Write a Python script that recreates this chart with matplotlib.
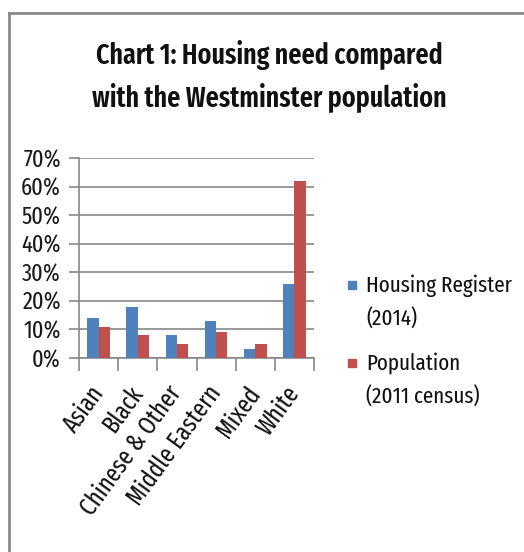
import matplotlib
matplotlib.use("Agg")
import matplotlib.pyplot as plt
import numpy as np
from matplotlib.lines import Line2D
from matplotlib.patches import Rectangle
from matplotlib.ticker import PercentFormatter

categories = ["Asian", "Black", "Chinese & Other", "Middle Eastern", "Mixed", "White"]
housing_register = [14, 18, 8, 13, 3, 26]
population = [11, 8, 5, 9, 5, 62]
series_names = [["Housing Register", "(2014)"], ["Population", "(2011 census)"]]
title_lines = ["Chart 1: Housing need compared", "with the Westminster population"]

FONT = ["Fira Sans Extra Condensed", "Fira Sans Condensed", "Carlito", "DejaVu Sans"]
plt.rcParams["font.family"] = FONT

BLUE = "#4F81BD"
RED = "#C0504D"
GRID = "#878787"
TXT = "#111111"

fig = plt.figure(figsize=(5.24, 5.52), dpi=100)
W, H = 524, 552
ax = fig.add_axes([79 / W, 1 - 358 / H, 235 / W, 200 / H])

x = np.arange(len(categories))
bw = 0.29
ax.bar(x - bw / 2, housing_register, bw, color=BLUE, zorder=3)
ax.bar(x + bw / 2, population, bw, color=RED, zorder=3)

ax.set_xlim(-0.5, len(categories) - 0.5)
ax.set_ylim(0, 70)
ax.set_yticks(np.arange(0, 71, 10))
ax.yaxis.set_major_formatter(PercentFormatter(decimals=0))
ax.yaxis.grid(True, color=GRID, linewidth=1.2, zorder=0)
ax.tick_params(axis="y", length=7, width=1.2, color=GRID, pad=6, labelsize=17.5, labelcolor="#1a1a1a")

ax.set_xticks(x)
ax.set_xticklabels(categories, rotation=54, ha="right", va="center", rotation_mode="anchor",
                   fontsize=18, color=TXT)
ax.tick_params(axis="x", which="major", length=0, pad=22)
ax.set_xticks(np.arange(-0.5, len(categories), 1), minor=True)
ax.tick_params(axis="x", which="minor", length=9, width=1.2, color=GRID)

for s in ["top", "right"]:
    ax.spines[s].set_visible(False)
ax.spines["left"].set_color(GRID)
ax.spines["left"].set_linewidth(1.2)
ax.spines["bottom"].set_color(GRID)
ax.spines["bottom"].set_linewidth(1.2)

# title (two centred lines)
for line, base in zip(title_lines, [64, 106]):
    fig.text(269 / W, 1 - base / H, line, ha="center", va="baseline", fontsize=20.3,
             fontweight="semibold", color=TXT)

# legend
legend_tops = [281, 359]
for lines, col, top in zip(series_names, [BLUE, RED], legend_tops):
    fig.patches.append(Rectangle((348 / W, 1 - (top + 8) / H), 8 / W, 8 / H,
                                 transform=fig.transFigure, color=col))
    base = top + 11
    for k, ln in enumerate(lines):
        fig.text(366 / W, 1 - (base + 34 * k) / H, ln, ha="left", va="baseline",
                 fontsize=16.5, color=TXT)

# outer frame
fig.add_artist(Line2D([9 / W, 9 / W], [0, 1 - 13 / H], transform=fig.transFigure,
                      color="#8a8a8a", linewidth=2))
fig.add_artist(Line2D([9 / W, 1], [1 - 13 / H, 1 - 13 / H], transform=fig.transFigure,
                      color="#8a8a8a", linewidth=2))

fig.savefig("out.png", dpi=100)
